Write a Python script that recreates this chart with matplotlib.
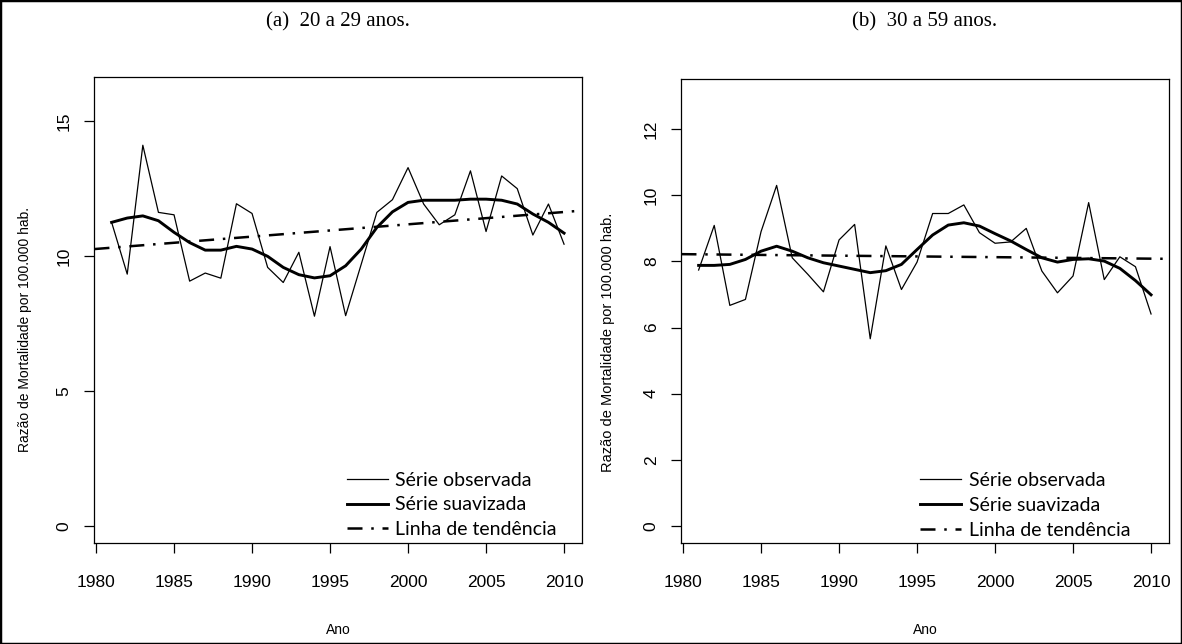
import matplotlib
matplotlib.use("Agg")
import matplotlib.pyplot as plt
from matplotlib.patches import Rectangle

# Razão de mortalidade por 100.000 hab., 1981-2010
anos = list(range(1981, 2011))

obs_20_29 = [11.25, 9.33, 14.11, 11.62, 11.53, 9.07, 9.37, 9.18, 11.94, 11.58,
             9.58, 9.02, 10.14, 7.77, 10.35, 7.79, 9.70, 11.62, 12.09, 13.28,
             11.93, 11.16, 11.53, 13.16, 10.91, 12.97, 12.50, 10.78, 11.93, 10.44]
suav_20_29 = [11.25, 11.41, 11.49, 11.31, 10.88, 10.50, 10.22, 10.22, 10.36, 10.26,
              9.99, 9.58, 9.31, 9.19, 9.27, 9.64, 10.26, 11.06, 11.64, 11.99,
              12.07, 12.07, 12.07, 12.11, 12.11, 12.07, 11.93, 11.56, 11.25, 10.85]

obs_30_59 = [7.74, 9.09, 6.67, 6.85, 8.90, 10.30, 8.11, 7.61, 7.08, 8.65,
             9.12, 5.66, 8.47, 7.15, 7.98, 9.45, 9.45, 9.71, 8.87, 8.55,
             8.59, 9.00, 7.71, 7.05, 7.56, 9.78, 7.45, 8.14, 7.84, 6.41]
suav_30_59 = [7.88, 7.88, 7.91, 8.06, 8.31, 8.46, 8.31, 8.11, 7.96, 7.86,
              7.76, 7.66, 7.72, 7.91, 8.36, 8.80, 9.10, 9.17, 9.07, 8.84,
              8.62, 8.36, 8.11, 7.98, 8.06, 8.08, 8.01, 7.79, 7.42, 6.99]

# linha de tendência (extremos da reta)
anos_tend = [1979.9, 2010.8]
tend_20_29 = [10.26, 11.67]
tend_30_59 = [8.22, 8.08]

titulos = ["(a)  20 a 29 anos.", "(b)  30 a 59 anos."]
yticks_a = [0, 5, 10, 15]
yticks_b = [0, 2, 4, 6, 8, 10, 12]
xticks = [1980, 1985, 1990, 1995, 2000, 2005, 2010]
rotulos = ["Série observada", "Série suavizada", "Linha de tendência"]

W, H = 1182, 644
fig = plt.figure(figsize=(W / 100, H / 100), dpi=100)
fig.patch.set_facecolor("white")

SANS = "Liberation Sans"
SERIF = "Liberation Serif"


def painel(box, obs, suav, tend, ylim, yticks, titulo, ylab_pos, ylab_size, leg_x):
    x0, y0, x1, y1 = box
    ax = fig.add_axes([x0 / W, 1 - y1 / H, (x1 - x0) / W, (y1 - y0) / H])
    ax.plot(anos, obs, color="black", lw=0.9, label=rotulos[0])
    ax.plot(anos, suav, color="black", lw=2.1, label=rotulos[1])
    ax.plot(anos_tend, tend, color="black", lw=1.8, dashes=(6, 3.5, 1, 3.5),
            label=rotulos[2])
    ax.set_xlim(1979.87, 2011.15)
    ax.set_ylim(*ylim)
    ax.set_xticks(xticks)
    ax.set_yticks(yticks)
    ax.set_yticklabels([str(v) for v in yticks], rotation=90, va="center")
    ax.tick_params(direction="out", length=7, width=0.9,
                   labelsize=12.5, colors="black")
    ax.tick_params(axis="x", pad=16)
    ax.tick_params(axis="y", pad=9)
    for lab in ax.get_xticklabels() + ax.get_yticklabels():
        lab.set_family(SANS)
    for s in ax.spines.values():
        s.set_linewidth(0.9)
    ax.legend(loc="upper left", bbox_to_anchor=(leg_x, 0.153),
              frameon=False, prop={"family": "Lato", "size": 14},
              handlelength=2.1, handletextpad=0.4, labelspacing=0.4,
              borderpad=0, borderaxespad=0)
    cx = (x0 + x1) / 2
    fig.text(cx / W, 1 - 22 / H, titulo, ha="center", va="center",
             family=SERIF, fontsize=15)
    fig.text(cx / W, 1 - 630 / H, "Ano", ha="center", va="center",
             family=SANS, fontsize=10)
    fig.text(ylab_pos[0] / W, 1 - ylab_pos[1] / H,
             "Razão de Mortalidade por 100.000 hab.", rotation=90,
             ha="center", va="center", family=SANS, fontsize=ylab_size)
    return ax


painel((94, 77, 582, 543), obs_20_29, suav_20_29, tend_20_29,
       (-0.64, 16.64), yticks_a, titulos[0], (25, 330), 10, 0.518)
painel((681, 79, 1169, 543), obs_30_59, suav_30_59, tend_30_59,
       (-0.52, 13.52), yticks_b, titulos[1], (608, 342), 10.5, 0.49)

# moldura externa
fig.add_artist(Rectangle((0, 0), 1, 1, transform=fig.transFigure,
                         fill=False, edgecolor="black", lw=2.5))

fig.savefig("out.png", dpi=100)
